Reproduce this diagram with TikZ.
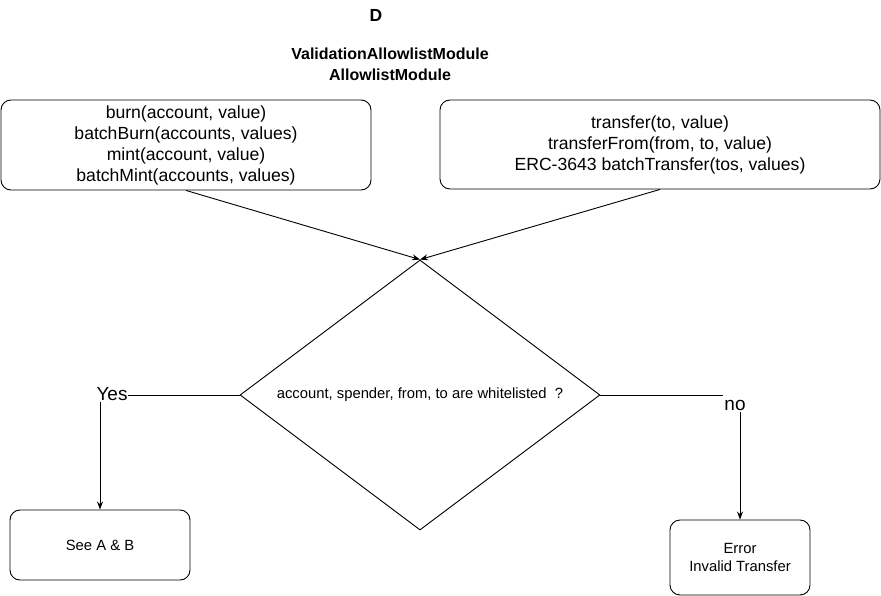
\documentclass[tikz,border=0pt]{standalone}
\usepackage{fontspec}
\setmainfont{Liberation Sans}
\usetikzlibrary{arrows.meta,shapes.geometric}
\begin{document}
\begin{tikzpicture}[x=1pt,y=-1pt,line width=0.9pt,
  rbox/.style={draw,rounded corners=10pt,align=center,inner sep=0pt},
  big/.style={font=\fontsize{17.6}{21}\selectfont},
  small/.style={font=\fontsize{14.8}{18}\selectfont},
  arr/.style={-{Stealth[length=8pt,width=6pt]}}]
\useasboundingbox (0,0) rectangle (881,596);
\node[font=\bfseries\fontsize{17.5}{18}\selectfont] (d) at (376,15) {D};
\node[font=\bfseries\fontsize{16}{21}\selectfont,align=center] (title) at (390,64) {ValidationAllowlistModule\\AllowlistModule};
\node[rbox,big,minimum width=370pt,minimum height=90pt] (left) at (186,145) {burn(account, value)\\batchBurn(accounts, values)\\mint(account, value)\\batchMint(accounts, values)};
\node[rbox,big,minimum width=440pt,minimum height=89pt] (right) at (660,144.5) {transfer(to, value)\\transferFrom(from, to, value)\\ERC-3643 batchTransfer(tos, values)};
\node[draw,diamond,minimum width=360pt,minimum height=270pt,inner sep=0pt,aspect=1.333] (dia) at (420,395) {};
\node[small] (q) at (420,395) {account, spender, from, to are whitelisted\ \ ?};
\node[rbox,small,minimum width=180pt,minimum height=70pt] (seeab) at (100,545) {See A \& B};
\node[rbox,small,minimum width=140pt,minimum height=75pt] (err) at (740,557.5) {Error\\Invalid Transfer};
\node[font=\fontsize{19}{21}\selectfont,inner sep=0.5pt] (yes) at (112,394) {Yes};
\node[font=\fontsize{19}{21}\selectfont,inner sep=1pt] (no) at (735,405) {no};
\draw[arr] (left.south) -- (dia.north);
\draw[arr] (right.south) -- (dia.north);
\draw (dia.west) -- (yes.east |- dia.west);
\draw[arr] (yes.south -| seeab.north) -- (seeab.north);
\draw (dia.east) -- (no.west |- dia.east);
\draw[arr] (no.south -| err.north) -- (err.north);
\end{tikzpicture}
\end{document}
